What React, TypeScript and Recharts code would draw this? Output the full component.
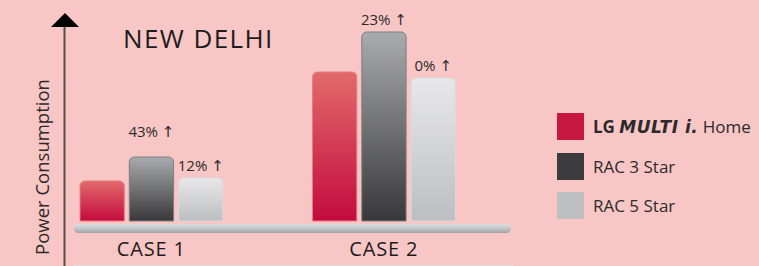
import React from 'react'
import { BarChart, Bar, XAxis, YAxis, LabelList } from 'recharts'

const cases = ['CASE 1', 'CASE 2']
const lgMulti = [40, 149]
const rac3Star = [64, 189]
const rac5Star = [43, 143]
const rac3Labels = ['43% ↑', '23% ↑']
const rac5Labels = ['12% ↑', '0% ↑']

const data = cases.map((c, i) => ({
  name: c,
  lg: lgMulti[i],
  rac3: rac3Star[i],
  rac5: rac5Star[i],
}))

const font = '"Open Sans", "DejaVu Sans", sans-serif'

const makeLabel = (labels: string[], bigLift?: number) => (props: any) => {
  const { x, y, width, index } = props
  const lift = bigLift !== undefined && index === 0 ? bigLift : 7
  return (
    <text
      x={x + width / 2}
      y={y - lift}
      textAnchor="middle"
      fontFamily={font}
      fontSize={15}
      fill="#2b2b2b"
    >
      {labels[index]}
    </text>
  )
}

const legendItems = [
  { key: 'lg', color: '#C8183F' },
  { key: 'rac3', color: '#3C3C3E' },
  { key: 'rac5', color: '#BEBFC1' },
]

const LegendBox = () => (
  <div style={{ position: 'absolute', left: 557, top: 113, fontFamily: font, fontSize: 17, color: '#2b2b2b' }}>
    {legendItems.map((it, i) => (
      <div key={it.key} style={{ display: 'flex', alignItems: 'center', height: 27, marginBottom: 12.5 }}>
        <div style={{ width: 27, height: 27, background: it.color }} />
        <div style={{ marginLeft: 9, whiteSpace: 'nowrap' }}>
          {i === 0 ? (
            <span>
              <b>LG </b>
              <b style={{ fontFamily: '"DejaVu Sans", sans-serif', fontStyle: 'italic', fontWeight: 900, letterSpacing: 0.5 }}>MULTI i.</b> Home
            </span>
          ) : i === 1 ? 'RAC 3 Star' : 'RAC 5 Star'}
        </div>
      </div>
    ))}
  </div>
)

const App = () => {
  return (
    <div style={{ position: 'fixed', left: 0, top: 0, width: 759, height: 266, background: '#F9C6C6', overflow: 'hidden' }}>
      <svg width={759} height={266} style={{ position: 'absolute', left: 0, top: 0 }}>
        <defs>
          <linearGradient id="platform" x1="0" y1="0" x2="0" y2="1">
            <stop offset="0%" stopColor="#DCDDDF" />
            <stop offset="60%" stopColor="#BDBFC2" />
            <stop offset="100%" stopColor="#9EA0A5" />
          </linearGradient>
        </defs>
        <line x1={64.5} y1={26} x2={64.5} y2={266} stroke="#5a4a4c" strokeWidth={2} />
        <polygon points="65,13 51,27 79,27" fill="#000" />
        <rect x={74} y={224} width={437} height={9} rx={4.5} fill="url(#platform)" />
        <line x1={73} y1={265.5} x2={513} y2={265.5} stroke="#EBD9D9" strokeWidth={1} />
        <text x={123} y={48} fontFamily={font} fontSize={26} letterSpacing={1.4} fill="#1c1c1c">NEW DELHI</text>
        <text
          x={0}
          y={0}
          transform="translate(48.5,167) rotate(-90)"
          textAnchor="middle"
          fontFamily={font}
          fontSize={18.5}
          fill="#2b2b2b"
        >
          Power Consumption
        </text>
      </svg>
      <div style={{ position: 'absolute', left: 0, top: 0 }}>
        <BarChart
          width={759}
          height={266}
          data={data}
          margin={{ top: 21, right: 259, left: 35, bottom: 15 }}
          barCategoryGap={44}
          barGap={5}
          barSize={44.3}
        >
          <defs>
            <linearGradient id="gLg" x1="0" y1="0" x2="0" y2="1">
              <stop offset="0%" stopColor="#E26A6B" />
              <stop offset="100%" stopColor="#C30B3E" />
            </linearGradient>
            <linearGradient id="gR3" x1="0" y1="0" x2="0" y2="1">
              <stop offset="0%" stopColor="#AAABAE" />
              <stop offset="100%" stopColor="#38383A" />
            </linearGradient>
            <linearGradient id="gR5" x1="0" y1="0" x2="0" y2="1">
              <stop offset="0%" stopColor="#E8E8EA" />
              <stop offset="100%" stopColor="#BDBEC1" />
            </linearGradient>
          </defs>
          <XAxis
            dataKey="name"
            axisLine={false}
            tickLine={false}
            tickSize={0}
            tickMargin={21}
            height={30}
            tick={{ fontFamily: font, fontSize: 20, letterSpacing: 0.8, fill: '#1c1c1c' }}
          />
          <YAxis hide width={0} domain={[0, 200]} />
          <Bar dataKey="lg" fill="url(#gLg)" stroke="#E77C80" strokeWidth={1} radius={[5, 5, 0, 0]} isAnimationActive={false} />
          <Bar dataKey="rac3" fill="url(#gR3)" stroke="#7E7F83" strokeWidth={1} radius={[5, 5, 0, 0]} isAnimationActive={false}>
            <LabelList dataKey="rac3" content={makeLabel(rac3Labels, 20)} />
          </Bar>
          <Bar dataKey="rac5" fill="url(#gR5)" stroke="#DADADD" strokeWidth={1} radius={[5, 5, 0, 0]} isAnimationActive={false}>
            <LabelList dataKey="rac5" content={makeLabel(rac5Labels)} />
          </Bar>
        </BarChart>
      </div>
      <LegendBox />
    </div>
  )
}

export default App
